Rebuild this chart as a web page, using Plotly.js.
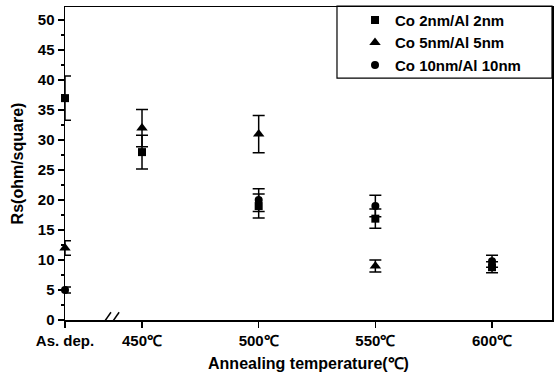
<!DOCTYPE html>
<html>
<head>
<meta charset="utf-8">
<script src="https://cdn.plot.ly/plotly-3.0.1.min.js"></script>
<style>html,body{margin:0;padding:0;background:#fff;}#chart{width:556px;height:374px;}</style>
</head>
<body>
<div id="chart"></div>
<script>
// ---- data ----
var temperatures = ['As. dep.', 450, 500, 550, 600];
var tickLabels = ['As. dep.', '450℃', '500℃', '550℃', '600℃'];
var seriesNames = ['Co 2nm/Al 2nm', 'Co 5nm/Al 5nm', 'Co 10nm/Al 10nm'];
var rsCo2 = [37, 28, 19, 16.9, 8.8];
var errCo2 = [3.7, 2.8, 2.0, 1.6, 0.9];
var rsCo5 = [12, 32, 31, 9, null];
var errCo5 = [1.2, 3.1, 3.1, 1.0, null];
var rsCo10 = [5, null, 20, 19, 9.8];
var errCo10 = [0.5, null, 1.9, 1.8, 1.0];

// As-deposited samples sit on the (broken) temperature axis, left of the break
var AS_DEP_POS = 417;
var xPos = temperatures.map(function (t) { return t === 'As. dep.' ? AS_DEP_POS : t; });

var FONT = 'Liberation Sans, Arial, Helvetica, sans-serif';
var W = 'bold';

function trace(name, y, err, symbol, size) {
  return {
    type: 'scatter', mode: 'markers', name: name,
    x: xPos, y: y, cliponaxis: false,
    marker: {symbol: symbol, size: size, color: '#000'},
    error_y: {type: 'data', array: err, visible: true, color: '#000', thickness: 1.5, width: 6}
  };
}

var data = [
  trace(seriesNames[0], rsCo2, errCo2, 'square', 8),
  trace(seriesNames[1], rsCo5, errCo5, 'triangle-up', 10),
  trace(seriesNames[2], rsCo10, errCo10, 'circle', 8)
];

// small decorative ticks and axis-break marks near the as-deposited position
var shapes = [];
[4.5, 9, 13.5].forEach(function (d) {
  shapes.push({type: 'line', xref: 'x', yref: 'y', x0: AS_DEP_POS + d, x1: AS_DEP_POS + d,
    y0: 0, y1: -0.85, line: {color: '#000', width: 1.5}});
});
[16.5, 20].forEach(function (d) {
  shapes.push({type: 'line', xref: 'x', yref: 'y', x0: AS_DEP_POS + d, x1: AS_DEP_POS + d + 3.2,
    y0: -0.5, y1: 1.3, line: {color: '#000', width: 1.5}});
});
// legend frame
shapes.push({type: 'rect', xref: 'paper', yref: 'paper', x0: 0.5585, x1: 1.0, y0: 0.773, y1: 1.003,
  line: {color: '#000', width: 1.2}, fillcolor: 'rgba(0,0,0,0)'});

var layout = {
  width: 556, height: 374,
  margin: {l: 65, r: 4, t: 7, b: 54},
  paper_bgcolor: '#fff', plot_bgcolor: '#fff',
  font: {family: FONT, size: 16, color: '#000', weight: W},
  showlegend: true,
  legend: {x: 0.5955, xanchor: 'left', y: 1.01, yanchor: 'top', bgcolor: 'rgba(0,0,0,0)',
    borderwidth: 0, font: {family: FONT, size: 15, color: '#000', weight: W}},
  xaxis: {
    range: [AS_DEP_POS, 625.7], tickmode: 'array', tickvals: xPos, ticktext: tickLabels,
    ticks: 'outside', ticklen: 6, tickwidth: 1.5, tickcolor: '#000',
    showline: true, linecolor: '#000', linewidth: 1.5, mirror: true,
    showgrid: false, zeroline: false,
    tickfont: {family: FONT, size: 15, color: '#000', weight: W},
    title: {text: 'Annealing temperature(℃)', font: {family: FONT, size: 16, color: '#000', weight: W}, standoff: 10}
  },
  yaxis: {
    range: [0, 52.2], tickmode: 'linear', tick0: 0, dtick: 5,
    ticks: 'outside', ticklen: 6, tickwidth: 1.5, tickcolor: '#000',
    minor: {dtick: 2.5, ticks: 'outside', ticklen: 3, tickwidth: 1.5, tickcolor: '#000', showgrid: false},
    showline: true, linecolor: '#000', linewidth: 1.5, mirror: true,
    showgrid: false, zeroline: false,
    tickfont: {family: FONT, size: 15, color: '#000', weight: W},
    title: {text: 'Rs(ohm/square)', font: {family: FONT, size: 16, color: '#000', weight: W}}
  },
  shapes: shapes
};

Plotly.newPlot('chart', data, layout, {displayModeBar: false, staticPlot: true});
</script>
</body>
</html>
